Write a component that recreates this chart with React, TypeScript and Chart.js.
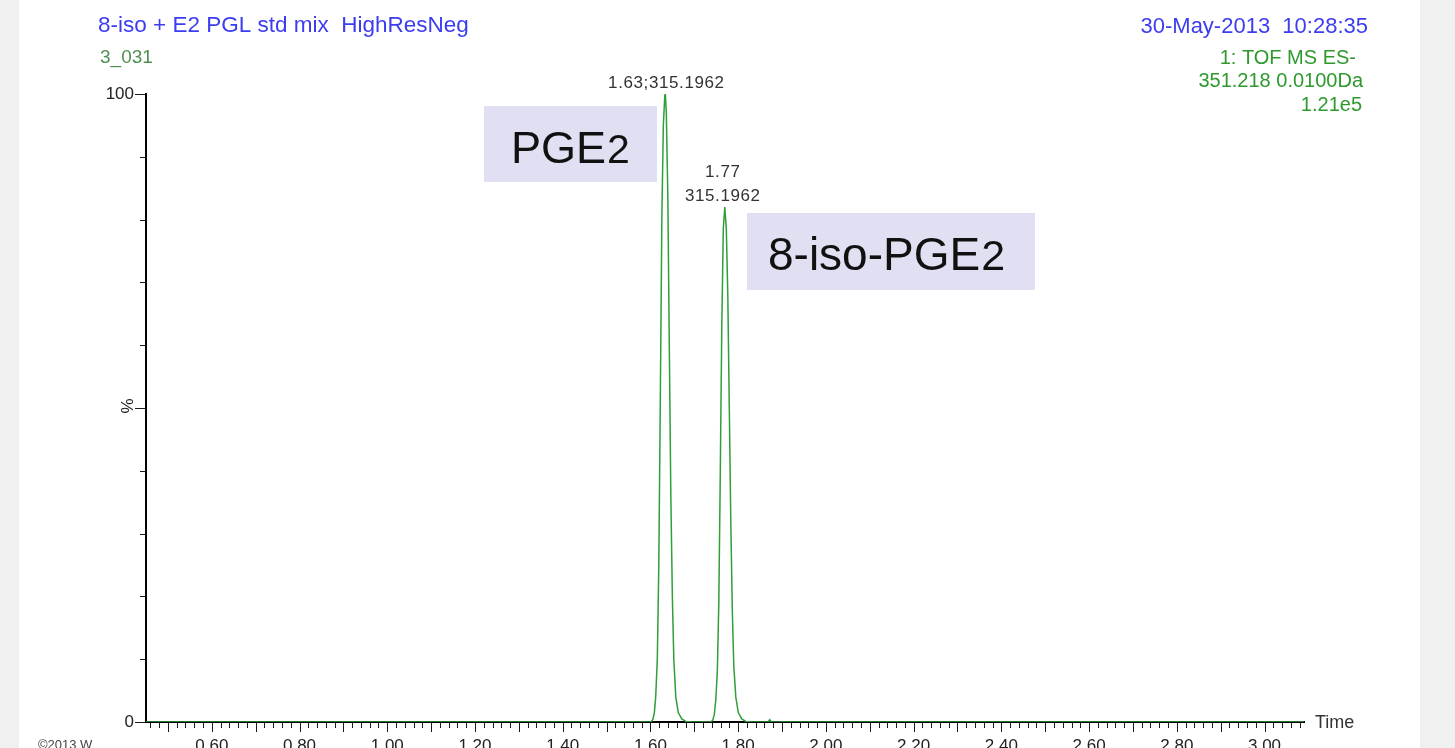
import React, { useEffect, useRef } from "react";
import { Chart, registerables } from "chart.js";

Chart.register(...registerables);

const FONT = "'Liberation Sans', Arial, Helvetica, sans-serif";

// Extracted ion chromatogram: retention time (min) against relative abundance (%)
const retentionTime = [
  0.45, 1.601, 1.6055, 1.609, 1.612, 1.6157, 1.6191, 1.6226, 1.626, 1.6294, 1.6328, 1.634, 1.6362,
  1.6396, 1.643, 1.6465, 1.65, 1.6533, 1.6578, 1.6635, 1.6715, 1.6806, 1.695,
  1.7376, 1.7422, 1.7456, 1.749, 1.7525, 1.7559, 1.7593, 1.7627, 1.7661, 1.7695, 1.773, 1.7764,
  1.7798, 1.7832, 1.7866, 1.79, 1.7946, 1.8003, 1.8083, 1.8174, 1.8311,
  1.868, 1.872, 1.876, 3.09,
];
const relativeAbundance = [
  0, 0, 0.4, 1.5, 4, 10, 25, 52, 80, 95, 99.8, 100, 97,
  84, 60, 36, 20, 10, 4, 1.5, 0.5, 0.1, 0,
  0, 0.3, 1.2, 3.5, 8, 19, 40, 63, 78.5, 82, 78.5, 68,
  50, 32, 18, 9, 4, 1.5, 0.5, 0.1, 0,
  0, 0.35, 0, 0,
];

const xTickValues = [0.6, 0.8, 1.0, 1.2, 1.4, 1.6, 1.8, 2.0, 2.2, 2.4, 2.6, 2.8, 3.0];
const yTickValues = [0, 100];

// Retention-time windows used to find each labelled apex
const peakWindows = [
  [1.55, 1.7],
  [1.7, 1.85],
];
const peakMasses = ["315.1962", "315.1962"];
const peakNames = ["PGE", "8-iso-PGE"];
const peakNameSubscript = "2";

const headerLeft = ["8-iso + E2 PGL std mix  HighResNeg", "3_031"];
const headerRight = ["30-May-2013  10:28:35", "1: TOF MS ES-", "351.218 0.0100Da", "1.21e5"];

function apexIndex(win: number[]): number {
  let best = -1;
  for (let i = 0; i < retentionTime.length; i++) {
    const t = retentionTime[i];
    if (t >= win[0] && t <= win[1] && (best < 0 || relativeAbundance[i] > relativeAbundance[best])) {
      best = i;
    }
  }
  return best;
}

const massLynxDecor = {
  id: "massLynxDecor",
  beforeDraw(chart: any) {
    const { ctx, width, height } = chart;
    ctx.save();
    ctx.fillStyle = "#ffffff";
    ctx.fillRect(0, 0, width, height);
    ctx.fillStyle = "#f0f0f0";
    ctx.fillRect(0, 0, 19, height);
    ctx.fillRect(1420, 0, width - 1420, height);
    ctx.restore();
  },
  afterDatasetsDraw(chart: any) {
    const { ctx } = chart;
    const x = chart.scales.x;
    const y = chart.scales.y;
    ctx.save();

    // compound name boxes
    const boxes = [
      { left: 484, top: 106, w: 173, h: 76, tx: 511, base: 163, size: 45, sub: 41 },
      { left: 747, top: 213, w: 288, h: 77, tx: 768, base: 270, size: 46, sub: 43 },
    ];
    boxes.forEach((b, k) => {
      ctx.fillStyle = "#e0e0f2";
      ctx.fillRect(b.left, b.top, b.w, b.h);
      ctx.fillStyle = "#111111";
      ctx.textAlign = "left";
      ctx.textBaseline = "alphabetic";
      ctx.font = `${b.size}px ${FONT}`;
      ctx.fillText(peakNames[k], b.tx, b.base);
      const w = ctx.measureText(peakNames[k]).width;
      ctx.font = `${b.sub}px ${FONT}`;
      ctx.fillText(peakNameSubscript, b.tx + w + 1, b.base);
    });

    // apex annotations
    ctx.fillStyle = "#333333";
    ctx.textAlign = "center";
    ctx.textBaseline = "alphabetic";
    ctx.font = `17px ${FONT}`;
    (ctx as any).letterSpacing = "0.6px";
    peakWindows.forEach((win, k) => {
      const i = apexIndex(win);
      const px = x.getPixelForValue(retentionTime[i]);
      const py = y.getPixelForValue(relativeAbundance[i]);
      const rt = retentionTime[i].toFixed(2);
      if (k === 0) {
        ctx.fillText(`${rt};${peakMasses[k]}`, px + 1, py - 6);
      } else {
        ctx.fillText(rt, px - 2, py - 30);
        ctx.fillText(peakMasses[k], px - 2, py - 6);
      }
    });
    ctx.restore();
  },
  afterDraw(chart: any) {
    const { ctx, chartArea } = chart;
    const x = chart.scales.x;
    const y = chart.scales.y;
    ctx.save();

    // time axis tick marks: every 0.02 min, longer every 0.1 min
    ctx.strokeStyle = "#1a1a1a";
    ctx.lineWidth = 1;
    ctx.beginPath();
    const k0 = Math.ceil(x.min * 50 - 1e-6);
    const k1 = Math.floor(x.max * 50 + 1e-6);
    for (let k = k0; k <= k1; k++) {
      const px = Math.round(x.getPixelForValue(k / 50)) + 0.5;
      const len = k % 5 === 0 ? 9 : 5;
      ctx.moveTo(px, chartArea.bottom + 1);
      ctx.lineTo(px, chartArea.bottom + 1 + len);
    }
    // intensity axis tick marks: every 10 %
    for (let k = 0; k <= 10; k++) {
      const py = Math.round(y.getPixelForValue(k * 10)) + 0.5;
      const len = k % 5 === 0 ? 10 : 5;
      ctx.moveTo(chartArea.left - 1, py);
      ctx.lineTo(chartArea.left - 1 - len, py);
    }
    ctx.stroke();

    // axis titles
    ctx.fillStyle = "#222222";
    ctx.font = `17px ${FONT}`;
    ctx.save();
    ctx.translate(128, y.getPixelForValue(50) - 2);
    ctx.rotate(-Math.PI / 2);
    ctx.textAlign = "center";
    ctx.textBaseline = "middle";
    ctx.fillText("%", 0, 0);
    ctx.restore();

    ctx.fillStyle = "#333333";
    ctx.font = `18px ${FONT}`;
    ctx.textAlign = "left";
    ctx.textBaseline = "middle";
    ctx.fillText("Time", 1315, chartArea.bottom + 1);

    // header block
    ctx.textBaseline = "alphabetic";
    ctx.textAlign = "left";
    ctx.fillStyle = "#3c3cf0";
    ctx.font = `22.5px ${FONT}`;
    ctx.fillText(headerLeft[0], 98, 32);
    ctx.fillStyle = "#4f8f4f";
    ctx.font = `19px ${FONT}`;
    ctx.fillText(headerLeft[1], 100, 63);

    ctx.textAlign = "right";
    ctx.fillStyle = "#3c3cf0";
    ctx.font = `22px ${FONT}`;
    ctx.fillText(headerRight[0], 1368, 33);
    ctx.fillStyle = "#2e9a2e";
    ctx.font = `20px ${FONT}`;
    ctx.fillText(headerRight[1], 1356, 64);
    ctx.fillText(headerRight[2], 1363, 87);
    ctx.fillText(headerRight[3], 1362, 111);

    ctx.textAlign = "left";
    ctx.textBaseline = "top";
    ctx.fillStyle = "#444444";
    ctx.font = `13px ${FONT}`;
    ctx.fillText("©2013 W", 38, 739);
    ctx.restore();
  },
};

export default function App() {
  const canvasRef = useRef<HTMLCanvasElement | null>(null);

  useEffect(() => {
    const canvas = canvasRef.current;
    if (!canvas) return;
    const chart = new Chart(canvas, {
      type: "line",
      data: {
        datasets: [
          {
            data: retentionTime.map((t, i) => ({ x: t, y: relativeAbundance[i] })),
            borderColor: "#2f9f3a",
            borderWidth: 1.5,
            pointRadius: 0,
            tension: 0,
            fill: false,
          },
        ],
      },
      options: {
        animation: false,
        responsive: false,
        devicePixelRatio: 1,
        layout: { padding: { top: 94, right: 151, left: 0, bottom: 0 } },
        plugins: {
          legend: { display: false },
          tooltip: { enabled: false },
          title: { display: false },
        },
        scales: {
          x: {
            type: "linear",
            position: "bottom",
            min: 0.45,
            max: 3.09,
            grid: { display: false, drawTicks: false },
            border: { display: true, color: "#000000", width: 2 },
            ticks: {
              autoSkip: false,
              maxRotation: 0,
              padding: 14,
              color: "#222222",
              font: { family: FONT, size: 17 },
              callback: (v: any) => Number(v).toFixed(2),
            },
            afterBuildTicks: (axis: any) => {
              axis.ticks = xTickValues.map((v) => ({ value: v }));
            },
            afterFit: (s: any) => {
              s.height = 26;
            },
          },
          y: {
            type: "linear",
            position: "left",
            min: 0,
            max: 100,
            grid: { display: false, drawTicks: false },
            border: { display: true, color: "#000000", width: 2 },
            ticks: {
              padding: 12,
              color: "#222222",
              font: { family: FONT, size: 17 },
              callback: (v: any) => String(v),
            },
            afterBuildTicks: (axis: any) => {
              axis.ticks = yTickValues.map((v) => ({ value: v }));
            },
            afterFit: (s: any) => {
              s.width = 146;
            },
          },
        },
      },
      plugins: [massLynxDecor],
    });
    return () => chart.destroy();
  }, []);

  return (
    <div style={{ position: "fixed", left: 0, top: 0, width: 1455, height: 748, overflow: "hidden", background: "#fff" }}>
      <canvas ref={canvasRef} width={1455} height={748} style={{ display: "block" }} />
    </div>
  );
}
